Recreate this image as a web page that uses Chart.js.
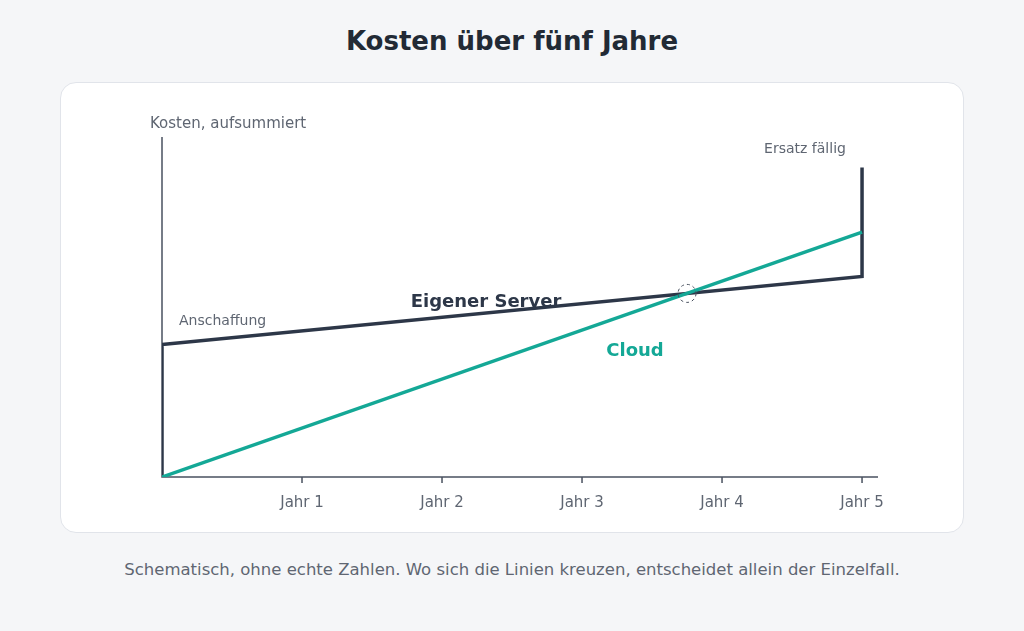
<!DOCTYPE html>
<html><head><meta charset="utf-8">
<script src="https://cdn.jsdelivr.net/npm/chart.js@4"></script>
<style>
body{margin:0;background:#f5f6f8;font-family:"DejaVu Sans",sans-serif;}
#wrap{position:relative;width:1024px;height:631px;}
h1{position:absolute;top:26px;left:0;width:1024px;margin:0;text-align:center;font-size:26px;font-weight:bold;color:#222a35;}
.card{position:absolute;left:60px;top:82px;width:902px;height:449px;background:#fff;border:1px solid #e1e4ea;border-radius:16px;}
.cap{position:absolute;top:560px;left:0;width:1024px;text-align:center;font-size:16.5px;color:#5f6672;margin:0;}
canvas{position:absolute;left:0;top:0;}
</style></head><body>
<div id="wrap">
<h1>Kosten über fünf Jahre</h1>
<div class="card"></div>
<p class="cap">Schematisch, ohne echte Zahlen. Wo sich die Linien kreuzen, entscheidet allein der Einzelfall.</p>
<canvas id="c" width="1024" height="631"></canvas>
</div>
<script>
const yearLabels = ['Jahr 1', 'Jahr 2', 'Jahr 3', 'Jahr 4', 'Jahr 5'];
const serverX = [0, 0, 5, 5];
const serverY = [0, 39, 59, 91];
const cloudX = [0, 5];
const cloudY = [0, 72];
const crossing = { x: 3.75, y: 54 };

const grey = '#5f6672';
const axisPlugin = {
  id: 'axes',
  beforeDatasetsDraw(chart) {
    const { ctx, scales: { x, y } } = chart;
    ctx.save();
    ctx.strokeStyle = '#4a5260';
    ctx.lineWidth = 1.5;
    ctx.beginPath();
    ctx.moveTo(x.getPixelForValue(0), y.getPixelForValue(100));
    ctx.lineTo(x.getPixelForValue(0), y.getPixelForValue(0));
    ctx.lineTo(x.right, y.getPixelForValue(0));
    yearLabels.forEach((l, i) => {
      const px = x.getPixelForValue(i + 1);
      ctx.moveTo(px, y.getPixelForValue(0));
      ctx.lineTo(px, y.getPixelForValue(0) + 6);
    });
    ctx.stroke();
    ctx.fillStyle = grey;
    ctx.font = '15px "DejaVu Sans"';
    ctx.textAlign = 'center';
    ctx.textBaseline = 'middle';
    yearLabels.forEach((l, i) => ctx.fillText(l, x.getPixelForValue(i + 1), y.getPixelForValue(0) + 26));
    ctx.restore();
  },
  afterDatasetsDraw(chart) {
    const { ctx, scales: { x, y } } = chart;
    ctx.save();
    ctx.textBaseline = 'middle';
    ctx.fillStyle = grey;
    ctx.font = '15px "DejaVu Sans"';
    ctx.textAlign = 'left';
    ctx.fillText('Kosten, aufsummiert', 150, 124);
    ctx.font = '14px "DejaVu Sans"';
    ctx.fillText('Anschaffung', 179, 321);
    ctx.textAlign = 'center';
    ctx.fillText('Ersatz fällig', 805, 149);
    ctx.font = 'bold 18px "DejaVu Sans"';
    ctx.fillStyle = '#2d3748';
    ctx.fillText('Eigener Server', 486, 302);
    ctx.fillStyle = '#14a896';
    ctx.fillText('Cloud', 635, 351);
    ctx.strokeStyle = '#4a5260';
    ctx.lineWidth = 1;
    ctx.setLineDash([3, 3]);
    ctx.beginPath();
    ctx.arc(x.getPixelForValue(crossing.x), y.getPixelForValue(crossing.y), 9, 0, Math.PI * 2);
    ctx.stroke();
    ctx.restore();
  }
};

new Chart(document.getElementById('c'), {
  type: 'line',
  data: {
    datasets: [
      { data: cloudX.map((v, i) => ({ x: v, y: cloudY[i] })), borderColor: '#14a896', borderWidth: 3.5, pointRadius: 0, tension: 0 },
      { data: serverX.map((v, i) => ({ x: v, y: serverY[i] })), borderColor: '#2d3748', borderWidth: 3.5, pointRadius: 0, tension: 0, borderJoinStyle: 'miter' }
    ]
  },
  options: {
    responsive: false,
    animation: false,
    layout: { padding: { left: 162, right: 146, top: 137, bottom: 154 } },
    plugins: { legend: { display: false }, tooltip: { enabled: false } },
    scales: {
      x: { type: 'linear', min: 0, max: 5.114, display: false },
      y: { min: 0, max: 100, display: false }
    }
  },
  plugins: [axisPlugin]
});
</script>
</body></html>
